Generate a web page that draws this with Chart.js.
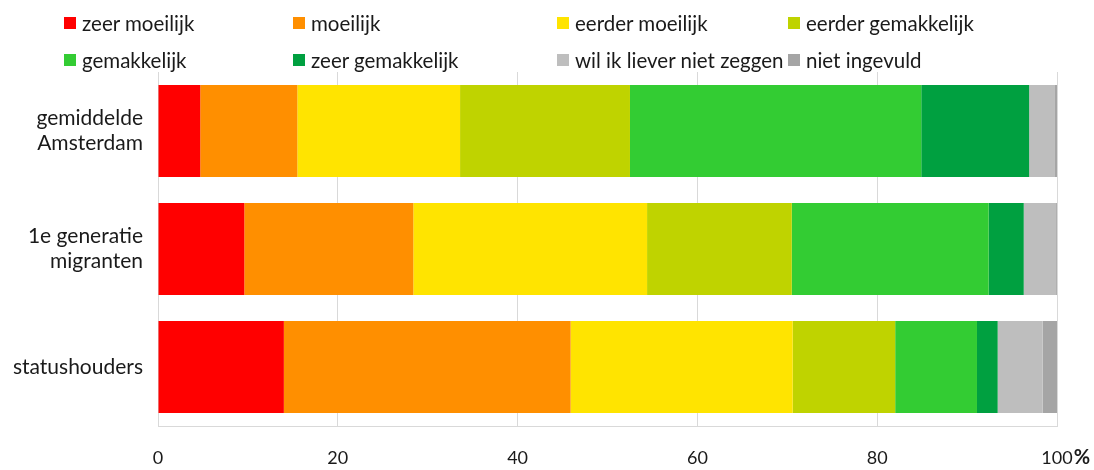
<!DOCTYPE html>
<html>
<head>
  <title>Moeite met rondkomen</title>
  <script src="https://cdn.jsdelivr.net/npm/chart.js"></script>
  <style>
    body {
      margin: 0;
      background: #fff;
      font-family: Lato, Arial, sans-serif;
    }
    #wrap {
      position: relative;
      width: 1094px;
      height: 470px;
    }
    #legend {
      position: absolute;
      left: 64px;
      top: 10px;
      display: grid;
      grid-template-columns: 229px 264px 231px 260px;
      row-gap: 12px;
      font-size: 20.5px;
      color: #1a1a1a;
    }
    .item {
      display: flex;
      align-items: center;
      white-space: nowrap;
      height: 25px;
    }
    .box {
      width: 12px;
      height: 12px;
      margin-right: 6px;
      flex: none;
    }
  </style>
</head>
<body>
  <div id="wrap">
    <canvas id="chart" width="1094" height="470"></canvas>
    <div id="legend"></div>
  </div>

  <script>
    const categories = [['gemiddelde', 'Amsterdam'], ['1e generatie', 'migranten'], 'statushouders'];
    const seriesNames = ['zeer moeilijk', 'moeilijk', 'eerder moeilijk', 'eerder gemakkelijk',
      'gemakkelijk', 'zeer gemakkelijk', 'wil ik liever niet zeggen', 'niet ingevuld'];
    const colors = ['#ff0000', '#ff8f00', '#ffe400', '#bfd300', '#33cc33', '#00a040', '#bebebe', '#a5a5a5'];

    // percentages per category: gemiddelde Amsterdam, 1e generatie migranten, statushouders
    const zeerMoeilijk = [4.7, 9.6, 14.0];
    const moeilijk = [10.8, 18.8, 31.9];
    const eerderMoeilijk = [18.1, 26.0, 24.7];
    const eerderGemakkelijk = [18.9, 16.1, 11.4];
    const gemakkelijk = [32.4, 21.9, 9.1];
    const zeerGemakkelijk = [12.0, 3.9, 2.3];
    const lieverNiet = [2.8, 3.6, 5.0];
    const nietIngevuld = [0.3, 0.1, 1.6];

    const xTicks = [0, 20, 40, 60, 80, 100];

    const values = [zeerMoeilijk, moeilijk, eerderMoeilijk, eerderGemakkelijk,
      gemakkelijk, zeerGemakkelijk, lieverNiet, nietIngevuld];

    // html legend, 4 columns x 2 rows
    const legend = document.getElementById('legend');
    seriesNames.forEach((name, i) => {
      const el = document.createElement('div');
      el.className = 'item';
      el.innerHTML = '<span class="box" style="background:' + colors[i] + '"></span>' + name;
      legend.appendChild(el);
    });

    // bold % after the last tick
    const percentSign = {
      id: 'percentSign',
      afterDraw(chart) {
        const x = chart.scales.x;
        const ctx = chart.ctx;
        ctx.save();
        ctx.font = '18px Lato';
        const w = ctx.measureText('100').width;
        ctx.font = 'bold 20px Lato';
        ctx.fillStyle = '#1a1a1a';
        ctx.textAlign = 'left';
        ctx.textBaseline = 'middle';
        ctx.fillText('%', x.getPixelForValue(100) + w / 2 + 1, 458);
        ctx.restore();
      }
    };

    new Chart(document.getElementById('chart'), {
      type: 'bar',
      data: {
        labels: categories,
        datasets: seriesNames.map((name, i) => ({
          label: name,
          data: values[i],
          backgroundColor: colors[i],
          borderWidth: 0,
          barPercentage: 0.78,
          categoryPercentage: 1
        }))
      },
      options: {
        indexAxis: 'y',
        responsive: false,
        animation: false,
        layout: { padding: { top: 72, right: 37, left: 0, bottom: 0 } },
        plugins: {
          legend: { display: false },
          tooltip: { enabled: false }
        },
        scales: {
          x: {
            stacked: true,
            min: 0,
            max: 100,
            afterBuildTicks(scale) {
              scale.ticks = xTicks.map(v => ({ value: v }));
            },
            afterFit(scale) { scale.height = 44; },
            grid: { color: '#d9d9d9', drawTicks: false },
            border: { color: '#d9d9d9' },
            ticks: {
              padding: 21,
              color: '#1a1a1a',
              font: { family: 'Lato', size: 18 },
              maxRotation: 0
            }
          },
          y: {
            stacked: true,
            afterFit(scale) { scale.width = 158; },
            grid: { display: false, drawTicks: false },
            border: { color: '#d9d9d9' },
            ticks: {
              padding: 15,
              color: '#1a1a1a',
              font: { family: 'Lato', size: 21, lineHeight: 1.2 }
            }
          }
        }
      },
      plugins: [percentSign]
    });
  </script>
</body>
</html>
